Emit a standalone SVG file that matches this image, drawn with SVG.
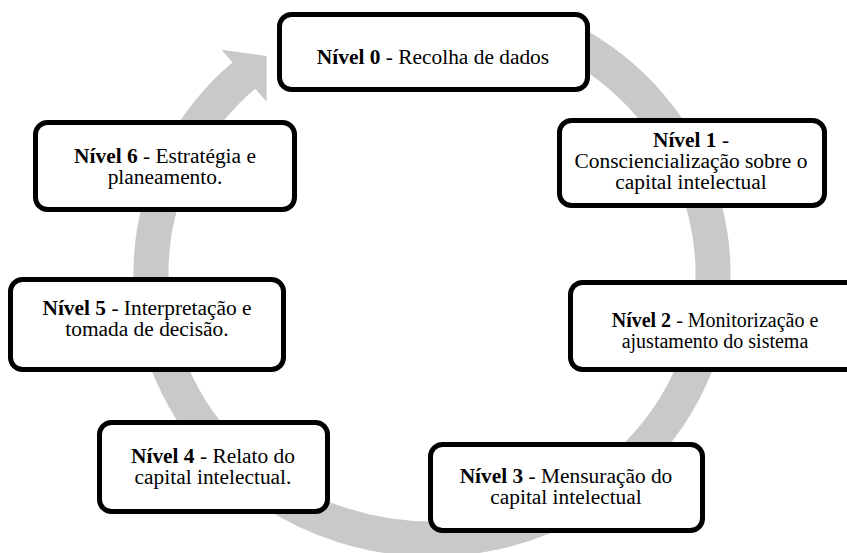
<svg xmlns="http://www.w3.org/2000/svg" width="847" height="553" viewBox="0 0 847 553">
<style>
.box{fill:#ffffff;stroke:#000000;stroke-width:5}
.t{font-family:'Liberation Serif','Times New Roman',serif;font-size:20px;fill:#000000;text-anchor:middle}
.b{font-weight:bold}
.ring{fill:none;stroke:#c9c9c9;stroke-width:35}
.head{fill:#c9c9c9}
</style>
<rect width="847" height="553" fill="#ffffff"/>
<g id="connectors">
<path class="ring" d="M 564.9 38.7 A 281 266 0 1 1 245.8 73.8"/>
<polygon class="head" points="221.5,49.8 266.6,56.1 266.6,101.8"/>
</g>
<g id="n0">
<rect class="box" x="279.5" y="14.5" width="308" height="75" rx="12"/>
<g transform="matrix(1.07 0 0 1 -30.31 0)">
<text class="t" x="433" y="64"><tspan class="b">Nível 0</tspan> - Recolha de dados</text>
</g>
</g>
<g id="n1">
<rect class="box" x="559.5" y="120.5" width="265" height="85" rx="12"/>
<g transform="matrix(1.07 0 0 1 -48.37 0)">
<text class="t" x="691" y="147"><tspan class="b">Nível 1</tspan> -</text>
<text class="t" x="691" y="168">Consciencialização sobre o</text>
<text class="t" x="691" y="189">capital intelectual</text>
</g>
</g>
<g id="n2">
<rect class="box" x="570.5" y="282.5" width="330" height="87" rx="12"/>
<text class="t" x="715" y="327"><tspan class="b">Nível 2</tspan> - Monitorização e</text>
<text class="t" x="715" y="348">ajustamento do sistema</text>
</g>
<g id="n3">
<rect class="box" x="430.5" y="444.5" width="272" height="86" rx="12"/>
<g transform="matrix(1.07 0 0 1 -39.62 0)">
<text class="t" x="566" y="483"><tspan class="b">Nível 3</tspan> - Mensuração do</text>
<text class="t" x="566" y="504">capital intelectual</text>
</g>
</g>
<g id="n4">
<rect class="box" x="99.5" y="422.5" width="228" height="89" rx="12"/>
<g transform="matrix(1.07 0 0 1 -14.91 0)">
<text class="t" x="213" y="463"><tspan class="b">Nível 4</tspan> - Relato do</text>
<text class="t" x="213" y="484">capital intelectual.</text>
</g>
</g>
<g id="n5">
<rect class="box" x="10.5" y="279.5" width="273" height="90" rx="12"/>
<g transform="matrix(1.07 0 0 1 -10.29 0)">
<text class="t" x="147" y="315"><tspan class="b">Nível 5</tspan> - Interpretação e</text>
<text class="t" x="147" y="336">tomada de decisão.</text>
</g>
</g>
<g id="n6">
<rect class="box" x="35.5" y="122.5" width="259" height="87" rx="12"/>
<g transform="matrix(1.07 0 0 1 -11.55 0)">
<text class="t" x="165" y="163"><tspan class="b">Nível 6</tspan> - Estratégia e</text>
<text class="t" x="165" y="184">planeamento.</text>
</g>
</g>
</svg>
